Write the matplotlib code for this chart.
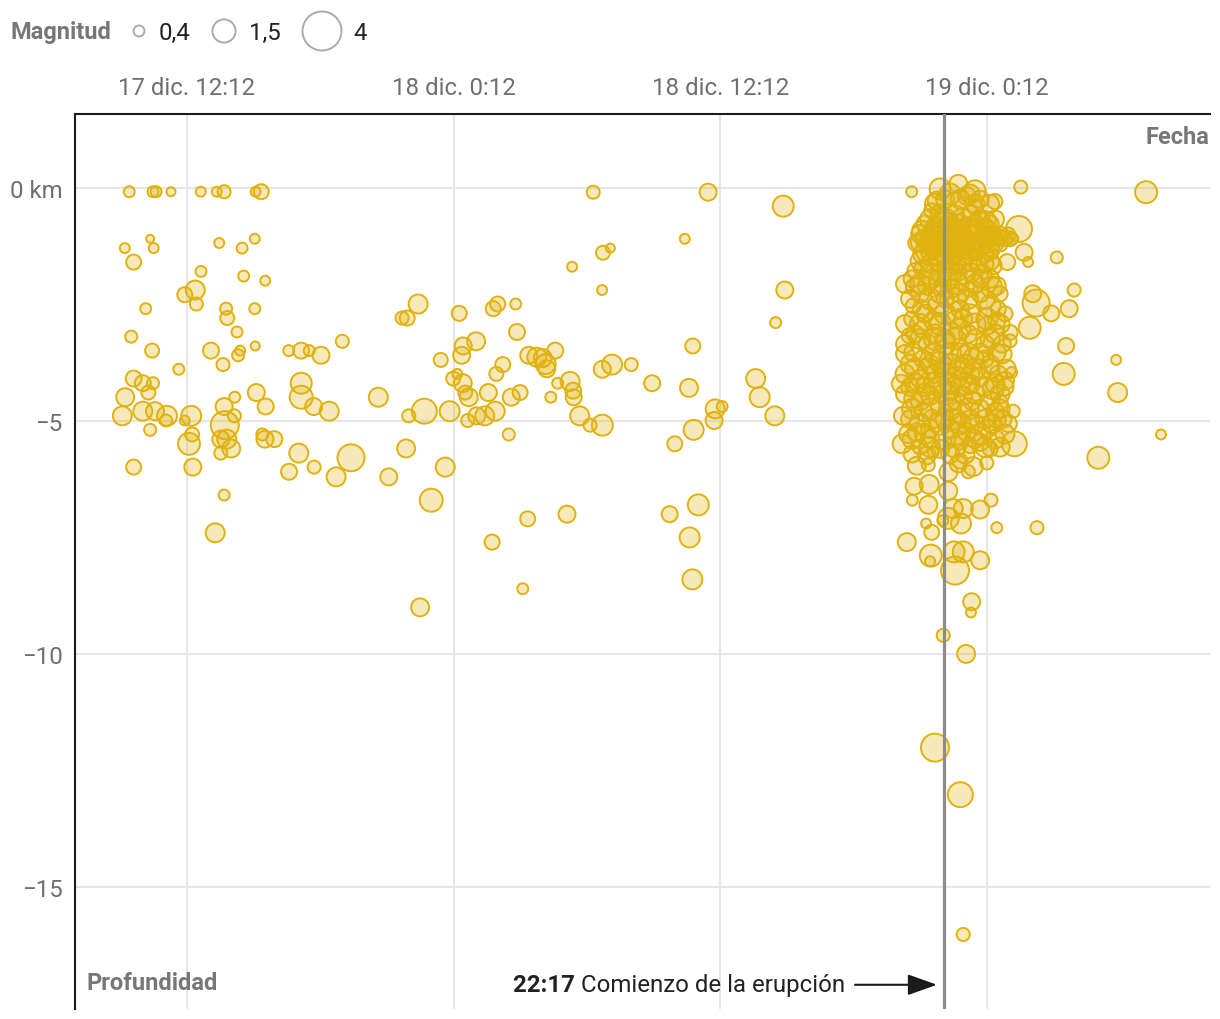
import numpy as np
import matplotlib
matplotlib.use("Agg")
import matplotlib.pyplot as plt

plt.rcParams['font.family'] = ['Roboto', 'DejaVu Sans']

# ---- data: hours since 17 dic 00:00, depth (km), magnitude ----
hora = [
    9.60, 10.67, 10.81, 11.48, 12.82, 13.54, 13.87, 15.29, 15.54, 9.40,
    10.54, 10.70, 9.80, 13.65, 14.68, 15.25, 12.83, 14.75, 15.72, 12.57,
    12.10, 12.62, 10.34, 13.96, 14.01, 15.25, 14.45, 9.69, 10.63, 13.28,
    14.59, 14.50, 15.27, 13.82, 11.83, 16.78, 17.34, 17.70, 18.23, 19.19,
    9.80, 10.21, 10.67, 10.46, 9.42, 9.29, 10.21, 10.76, 11.30, 11.26,
    10.54, 9.80, 12.10, 12.39, 12.43, 12.29, 12.46, 13.90, 13.87, 14.35,
    14.33, 13.72, 13.99, 14.19, 13.72, 15.32, 15.74, 15.59, 15.71, 16.13,
    17.34, 17.34, 17.90, 18.60, 17.23, 16.79, 17.92, 18.91, 19.58, 20.81,
    21.28, 22.06, 13.87, 13.47, 22.60, 21.88, 22.11, 24.45, 23.62, 24.63,
    25.21, 24.56, 22.18, 22.88, 24.02, 24.18, 24.36, 24.61, 24.72, 24.88,
    24.83, 25.24, 23.82, 23.19, 22.69, 30.48, 35.65, 39.03, 34.60, 30.92,
    31.25, 29.53, 30.88, 39.10, 38.69, 25.98, 26.18, 26.99, 27.05, 26.41,
    26.12, 25.76, 26.79, 27.19, 27.58, 27.94, 28.21, 28.34, 28.39, 28.77,
    28.88, 28.57, 29.44, 29.58, 29.60, 30.89, 31.33, 32.19, 33.13, 34.79,
    34.96, 37.79, 37.97, 38.65, 35.97, 36.28, 35.92, 35.00, 34.15, 25.60,
    26.07, 26.68, 29.87, 30.34, 30.89, 27.53, 29.30, 25.93, 27.31, 33.92,
    35.21, 34.82, 34.94, 55.36, 51.34, 52.12, 51.90, 51.09, 51.76, 51.65,
    54.01, 54.08, 56.03, 53.21, 49.72, 48.55, 49.64, 49.36, 49.87, 50.05,
    49.11, 48.48, 45.04, 50.26, 50.41, 50.12, 44.32, 44.42, 44.38, 49.43,
    49.38, 49.24, 44.81, 48.19, 47.58, 47.36, 46.99, 46.46, 45.49, 45.56,
    44.92, 45.60, 44.84, 45.56, 46.46, 46.68, 47.13, 46.46, 46.21, 45.46,
    45.71, 47.03, 47.89, 48.38, 48.64, 50.45, 44.59, 45.67, 45.64, 46.72,
    47.13, 47.89, 46.76, 47.51, 47.48, 46.23, 47.26, 45.86, 47.00, 47.13,
    45.04, 46.91, 46.09, 46.91, 47.66, 47.29, 45.94, 45.71, 47.89, 47.66,
    48.19, 45.41, 45.86, 46.31, 46.76, 47.21, 47.66, 48.11, 48.47, 45.64,
    46.31, 46.99, 47.66, 46.54, 46.09, 47.44, 48.71, 49.01, 44.96, 45.33,
    46.16, 46.91, 47.51, 48.41, 48.64, 44.96, 45.49, 46.99, 47.44, 44.88,
    45.26, 46.01, 46.99, 48.34, 48.71, 44.81, 45.78, 48.19, 48.64, 47.13,
    46.54, 47.89, 44.70, 45.33, 46.99, 48.19, 49.24, 44.88, 45.33, 46.09,
    46.99, 47.58, 48.64, 49.09, 45.19, 46.84, 47.89, 49.01, 49.31, 44.88,
    45.64, 47.13, 48.48, 48.79, 45.33, 46.09, 46.99, 47.89, 48.56, 49.16,
    45.04, 45.64, 46.54, 47.29, 48.19, 48.64, 45.19, 45.78, 46.99, 47.44,
    47.89, 46.31, 47.66, 46.54, 47.44, 46.31, 47.66, 48.11, 45.86, 46.76,
    46.31, 48.11, 46.54, 46.09, 48.34,
]

profundidad = [
    -0.08, -0.08, -0.08, -0.08, -0.08, -0.08, -0.08, -0.08, -0.08, -1.29,
    -1.09, -1.29, -1.59, -1.18, -1.29, -1.09, -1.79, -1.89, -1.99, -2.19,
    -2.29, -2.49, -2.59, -2.59, -2.79, -2.59, -3.09, -3.19, -3.49, -3.49,
    -3.49, -3.59, -3.39, -3.79, -3.89, -3.49, -3.49, -3.49, -3.59, -3.29,
    -4.09, -4.19, -4.19, -4.39, -4.49, -4.89, -4.79, -4.79, -4.89, -4.99,
    -5.19, -5.99, -4.99, -4.89, -5.29, -5.49, -5.99, -5.09, -4.69, -4.49,
    -4.89, -5.39, -5.39, -5.59, -5.69, -4.39, -4.69, -5.29, -5.39, -5.39,
    -4.19, -4.49, -4.69, -4.79, -5.69, -6.09, -5.99, -6.20, -5.79, -4.49,
    -6.20, -5.59, -6.59, -7.40, -2.49, -2.79, -2.79, -2.69, -3.69, -3.39,
    -3.29, -3.59, -4.89, -4.79, -4.79, -4.09, -3.99, -4.19, -4.39, -4.49,
    -4.99, -4.89, -5.99, -6.70, -9.00, -0.09, -0.09, -0.39, -1.09, -1.39,
    -1.29, -1.69, -2.19, -2.19, -2.89, -2.59, -2.49, -2.49, -3.09, -3.79,
    -3.99, -4.39, -4.49, -4.39, -3.59, -3.63, -3.65, -3.78, -3.88, -3.49,
    -4.19, -4.49, -4.15, -4.35, -4.49, -3.89, -3.79, -3.79, -4.19, -4.29,
    -3.39, -4.09, -4.49, -4.89, -4.74, -4.69, -4.99, -5.19, -5.49, -4.89,
    -4.79, -5.29, -4.89, -5.09, -5.09, -7.10, -7.00, -7.60, -8.60, -7.00,
    -6.80, -7.50, -8.40, -0.09, -1.49, -2.19, -2.59, -2.69, -3.39, -3.99,
    -3.69, -4.39, -5.29, -5.79, 0.02, -0.29, -0.88, -1.09, -1.38, -1.59,
    -1.59, -1.67, -1.18, -2.27, -2.47, -3.00, -4.20, -4.89, -5.49, -5.49,
    -4.79, -3.10, -0.08, -5.90, -5.98, -6.09, -5.86, -6.10, -5.74, -5.94,
    -6.40, -6.36, -6.70, -6.80, -6.50, -6.88, -6.88, -7.09, -7.14, -7.20,
    -7.39, -7.20, -6.90, -6.70, -7.29, -7.29, -7.60, -7.89, -8.01, -7.81,
    -7.81, -7.99, -8.21, -8.88, -9.11, -9.60, -10.00, -12.01, -13.02, -16.02,
    -5.96, -5.92, -0.02, 0.09, -0.06, -0.17, -0.27, -0.49, -0.59, -0.41,
    -0.70, -1.09, -0.92, -1.09, -0.88, -1.14, -0.99, -1.09, -1.05, -1.35,
    -1.42, -1.31, -1.35, -0.71, -1.20, -1.20, -1.06, -1.09, -1.77, -1.74,
    -1.81, -1.81, -1.81, -2.13, -2.10, -2.13, -2.10, -2.27, -2.17, -2.53,
    -2.60, -2.53, -2.60, -2.53, -2.60, -2.81, -2.85, -2.81, -2.85, -2.81,
    -2.17, -1.95, -3.17, -3.03, -3.03, -2.96, -3.28, -3.53, -3.67, -3.74,
    -3.53, -3.67, -3.53, -3.88, -4.10, -4.06, -4.06, -4.14, -3.96, -4.53,
    -4.46, -4.46, -4.31, -4.60, -4.81, -4.67, -4.81, -4.74, -4.81, -5.06,
    -5.24, -5.17, -5.17, -5.24, -5.17, -4.96, -5.56, -5.67, -5.42, -5.53,
    -5.46, -3.24, -3.24, -4.35, -4.21, -4.96, -5.06, -3.67, -3.99, -2.81,
    -2.38, -1.63, -1.63, -5.60, -5.60,
]

magnitud = [
    0.40, 0.40, 0.40, 0.29, 0.34, 0.34, 0.54, 0.34, 0.69, 0.34,
    0.24, 0.34, 0.69, 0.34, 0.40, 0.34, 0.40, 0.40, 0.34, 1.05,
    0.69, 0.54, 0.40, 0.47, 0.61, 0.40, 0.40, 0.47, 0.61, 0.77,
    0.34, 0.47, 0.29, 0.54, 0.40, 0.40, 0.77, 0.40, 0.86, 0.54,
    0.77, 0.77, 0.47, 0.61, 0.95, 1.05, 1.05, 0.95, 1.15, 0.47,
    0.47, 0.69, 0.34, 1.15, 0.61, 1.37, 0.86, 2.14, 0.86, 0.40,
    0.54, 0.86, 1.05, 0.95, 0.54, 0.86, 0.77, 0.47, 0.86, 0.77,
    1.26, 1.49, 0.86, 1.05, 1.05, 0.77, 0.54, 1.05, 2.00, 1.05,
    0.86, 0.95, 0.40, 1.05, 1.05, 0.54, 0.69, 0.69, 0.61, 0.86,
    0.95, 0.86, 0.54, 1.73, 1.15, 0.61, 0.34, 0.95, 0.61, 0.95,
    0.54, 0.86, 1.05, 1.49, 0.95, 0.54, 0.86, 1.26, 0.34, 0.61,
    0.29, 0.34, 0.34, 0.86, 0.40, 0.69, 0.69, 0.40, 0.77, 0.69,
    0.61, 0.86, 0.86, 0.69, 0.86, 1.05, 0.95, 1.15, 0.86, 0.77,
    0.40, 0.40, 1.05, 0.77, 0.77, 0.86, 1.15, 0.54, 0.77, 0.95,
    0.69, 1.05, 1.15, 1.05, 1.05, 0.40, 0.86, 1.15, 0.69, 1.05,
    1.05, 0.47, 1.05, 0.54, 1.26, 0.69, 0.86, 0.69, 0.40, 0.77,
    1.26, 1.15, 1.15, 1.37, 0.47, 0.54, 0.86, 0.77, 0.77, 1.37,
    0.34, 1.05, 0.34, 1.37, 0.54, 0.69, 1.87, 0.40, 0.86, 0.34,
    0.77, 0.86, 0.86, 0.86, 2.00, 1.37, 0.95, 0.95, 1.05, 1.73,
    0.54, 0.69, 0.40, 0.54, 1.05, 0.54, 0.69, 0.95, 0.95, 0.54,
    0.86, 1.05, 0.40, 0.95, 0.95, 1.05, 1.05, 1.26, 0.40, 0.34,
    0.69, 1.15, 0.95, 0.54, 0.40, 0.54, 0.95, 1.37, 0.34, 1.26,
    1.26, 0.95, 2.14, 0.86, 0.34, 0.54, 0.95, 2.14, 1.73, 0.54,
    0.95, 0.86, 1.26, 0.95, 1.26, 0.95, 0.95, 0.69, 0.40, 0.69,
    0.95, 1.05, 1.05, 1.26, 1.05, 1.26, 1.05, 1.05, 0.86, 1.05,
    1.05, 1.05, 0.86, 0.86, 1.49, 1.05, 0.86, 0.69, 0.69, 0.95,
    1.26, 0.86, 0.95, 1.26, 0.95, 0.95, 0.95, 0.95, 0.69, 0.69,
    0.95, 1.26, 0.95, 1.26, 0.69, 0.69, 0.95, 1.26, 0.86, 0.95,
    1.05, 0.95, 0.69, 0.95, 1.26, 0.95, 0.54, 0.95, 0.95, 1.26,
    0.95, 1.26, 0.95, 0.95, 0.95, 1.26, 0.95, 0.95, 0.40, 0.95,
    0.95, 0.95, 1.26, 0.69, 0.95, 0.95, 1.26, 0.95, 0.95, 0.86,
    0.95, 0.95, 0.95, 0.95, 0.95, 0.95, 0.69, 0.40, 0.95, 0.69,
    0.86, 1.05, 1.05, 1.05, 1.05, 1.05, 1.05, 0.86, 0.95, 0.86,
    0.86, 0.86, 0.95, 0.95, 0.69,
]

# dense swarm right around the eruption onset (part 1)
hora_enjambre = [
    46.31, 46.99, 47.89, 46.09, 46.76, 47.44, 45.41, 46.09, 46.99, 47.66,
    48.34, 45.19, 45.73, 46.45, 47.08, 47.80, 48.43, 45.55, 46.63, 46.90,
    47.98, 48.79, 45.28, 46.00, 46.63, 47.35, 48.11, 45.64, 47.08, 47.80,
    44.83, 45.73, 46.45, 48.34, 45.19, 46.09, 47.89, 48.79, 45.41, 46.31,
    47.44, 49.01, 44.96, 45.86, 46.63, 47.35, 48.56, 44.51, 45.55, 46.31,
    48.11, 48.88, 44.74, 45.64, 46.54, 47.21, 48.34, 44.51, 46.31, 47.44,
    48.70, 44.74, 45.41, 46.09, 46.99, 48.11, 49.01, 45.19, 46.54, 47.53,
    48.34, 44.74, 45.73, 46.76, 47.44, 48.11, 48.92, 44.83, 45.64, 46.31,
    47.66, 48.56, 44.83, 46.54, 47.21, 45.86, 46.54, 47.35, 48.11, 45.86,
    46.31, 47.66, 48.34, 45.64, 46.76, 49.24, 48.79, 49.15,
]
profundidad_enjambre = [
    -0.24, -0.24, -0.24, -0.56, -0.56, -0.56, -0.77, -0.77, -0.77, -0.77,
    -0.77, -0.99, -0.99, -0.99, -0.99, -0.99, -0.99, -1.20, -1.20, -1.20,
    -1.20, -1.20, -1.42, -1.42, -1.42, -1.42, -1.42, -1.63, -1.63, -1.63,
    -1.95, -1.95, -1.95, -1.95, -2.27, -2.27, -2.27, -2.27, -2.70, -2.70,
    -2.70, -2.70, -3.13, -3.13, -3.13, -3.13, -3.13, -3.35, -3.35, -3.35,
    -3.35, -3.35, -3.78, -3.78, -3.78, -3.78, -3.78, -3.99, -3.99, -3.99,
    -3.99, -4.27, -4.27, -4.27, -4.27, -4.27, -4.27, -4.57, -4.57, -4.57,
    -4.57, -4.96, -4.96, -4.96, -4.96, -4.96, -4.96, -5.39, -5.39, -5.39,
    -5.39, -5.39, -5.71, -5.71, -5.71, -0.84, -0.84, -0.84, -0.84, -1.27,
    -1.27, -1.27, -1.27, -1.09, -1.09, -1.09, -1.01, -1.01,
]
magnitud_enjambre = [
    0.95, 1.05, 0.86, 1.05, 0.95, 0.86, 0.86, 1.26, 1.05, 0.95,
    0.86, 0.95, 1.05, 1.26, 1.05, 1.26, 0.86, 1.05, 1.26, 0.95,
    1.05, 0.69, 0.95, 1.26, 1.05, 0.95, 0.86, 0.95, 1.05, 0.86,
    0.86, 1.05, 1.26, 0.95, 0.95, 1.05, 0.86, 0.69, 0.95, 1.26,
    1.05, 0.69, 0.86, 1.05, 1.26, 0.95, 1.05, 0.95, 1.05, 1.26,
    0.95, 0.86, 1.05, 0.95, 1.26, 1.05, 0.95, 1.05, 1.26, 0.95,
    0.86, 0.95, 1.05, 1.26, 1.05, 0.95, 0.86, 1.05, 1.26, 0.95,
    1.05, 0.95, 1.05, 1.26, 0.95, 1.05, 0.86, 1.05, 0.95, 1.26,
    0.95, 1.05, 0.86, 0.95, 1.05, 1.05, 1.26, 1.05, 0.95, 1.05,
    1.26, 1.05, 0.95, 1.05, 1.26, 0.69, 0.86, 0.69,
]

# dense swarm (part 2)
hora_enjambre2 = [
    46.54, 47.44, 45.86, 46.76, 47.66, 48.34, 45.64, 46.31, 47.08, 47.89,
    48.56, 45.28, 46.18, 46.90, 47.53, 48.25, 45.19, 46.00, 46.54, 47.21,
    47.80, 48.56, 45.46, 46.18, 46.76, 47.53, 48.34, 45.19, 46.09, 46.76,
    47.44, 48.34, 45.64, 46.54, 47.21, 47.98, 44.51, 45.19, 46.09, 46.90,
    47.66, 44.74, 45.64, 46.76, 47.35, 48.11, 44.51, 45.19, 46.09, 47.66,
    48.79, 45.19, 45.86, 46.76, 48.34, 44.51, 45.86, 46.54, 47.35, 47.89,
    48.88, 44.96, 45.55, 46.31, 46.99, 47.66, 48.34, 44.96, 45.86, 46.54,
    47.21, 48.56, 44.51, 45.41, 46.31, 47.66, 48.79, 44.83, 45.64, 46.54,
    47.35, 48.79, 45.19, 46.09, 46.99, 48.43, 44.65, 45.41, 46.76, 47.89,
    49.01, 45.64, 46.76, 48.11, 48.79,
]
profundidad_enjambre2 = [
    -0.13, -0.13, -0.34, -0.34, -0.34, -0.34, -0.67, -0.67, -0.67, -0.67,
    -0.67, -0.92, -0.92, -0.92, -0.92, -0.92, -1.16, -1.16, -1.16, -1.16,
    -1.16, -1.16, -1.35, -1.35, -1.35, -1.35, -1.35, -1.57, -1.57, -1.57,
    -1.57, -1.57, -1.85, -1.85, -1.85, -1.85, -2.06, -2.06, -2.06, -2.06,
    -2.06, -2.38, -2.38, -2.38, -2.38, -2.38, -2.92, -2.92, -2.92, -2.92,
    -2.92, -3.24, -3.24, -3.24, -3.24, -3.56, -3.56, -3.56, -3.56, -3.56,
    -3.56, -3.88, -3.88, -3.88, -3.88, -3.88, -3.88, -4.20, -4.20, -4.20,
    -4.20, -4.20, -4.42, -4.42, -4.42, -4.42, -4.42, -4.74, -4.74, -4.74,
    -4.74, -4.74, -5.06, -5.06, -5.06, -5.06, -5.28, -5.28, -5.28, -5.28,
    -5.28, -5.56, -5.56, -5.56, -5.56,
]
magnitud_enjambre2 = [
    1.26, 1.05, 1.15, 1.37, 1.05, 0.95, 1.15, 1.37, 1.26, 1.05,
    0.95, 1.15, 1.37, 1.49, 1.26, 1.05, 1.05, 1.37, 1.49, 1.26,
    1.15, 0.95, 1.26, 1.49, 1.37, 1.15, 0.95, 1.05, 1.37, 1.26,
    1.15, 0.95, 1.26, 1.37, 1.15, 1.05, 0.95, 1.15, 1.37, 1.26,
    1.05, 0.95, 1.26, 1.37, 1.15, 1.05, 0.95, 1.15, 1.37, 1.26,
    1.05, 1.15, 1.37, 1.26, 1.05, 0.95, 1.26, 1.37, 1.26, 1.15,
    1.05, 1.15, 1.26, 1.37, 1.49, 1.26, 1.05, 1.15, 1.37, 1.26,
    1.37, 1.05, 0.95, 1.26, 1.37, 1.15, 1.05, 1.15, 1.26, 1.37,
    1.26, 1.05, 1.15, 1.37, 1.26, 1.05, 0.95, 1.15, 1.37, 1.26,
    1.05, 1.15, 1.26, 1.15, 1.05,
]

x_ticks = [12.2, 24.2, 36.2, 48.2]
x_labels = ["17 dic. 12:12", "18 dic. 0:12", "18 dic. 12:12", "19 dic. 0:12"]
y_ticks = [0, -5, -10, -15]
y_labels = ["0 km", "−5", "−10", "−15"]
leyenda_mag = [0.4, 1.5, 4]
leyenda_txt = ["0,4", "1,5", "4"]
erupcion = 24 + 22 + 17 / 60.0   # 18 dic 22:17

# ---- styling ----
W, H = 1220, 1020
GOLD = '#e0b20f'
FACE = (0.88, 0.70, 0.06, 0.29)
GREY_TXT = '#6f6f6f'
FS = 17.3


def area(m):
    d_px = 20.5 * np.sqrt(np.asarray(m)) - 2.0
    return (d_px * 0.72) ** 2


x_all = hora + hora_enjambre + hora_enjambre2
y_all = profundidad + profundidad_enjambre + profundidad_enjambre2
m_all = magnitud + magnitud_enjambre + magnitud_enjambre2

fig = plt.figure(figsize=(W / 100, H / 100), dpi=100)
ax = fig.add_axes([75 / W, 10 / H, 1135 / W, 895 / H])
ax.set_xlim(7.16, 58.235)
ax.set_ylim(-17.62, 1.588)

ax.scatter(x_all, y_all, s=area(m_all), facecolor=FACE,
           edgecolor=GOLD, linewidth=1.4, zorder=3)
ax.axvline(erupcion, color='#8c8c8c', lw=2.3, zorder=4)

ax.set_xticks(x_ticks)
ax.set_xticklabels(x_labels)
ax.set_yticks(y_ticks)
ax.set_yticklabels(y_labels)
ax.xaxis.tick_top()
ax.tick_params(axis='x', length=0, pad=11, labelsize=FS, labelcolor=GREY_TXT)
ax.tick_params(axis='y', length=0, pad=9, labelsize=FS, labelcolor=GREY_TXT)
ax.grid(True, color='#e6e6e6', lw=1.5)
ax.set_axisbelow(True)
for s in ['bottom', 'right']:
    ax.spines[s].set_visible(False)
for s in ['top', 'left']:
    ax.spines[s].set_color('#1a1a1a')
    ax.spines[s].set_linewidth(1.5)

# axis titles
fig.text(1209 / W, 1 - 138 / H, 'Fecha', ha='right', va='center',
         weight='bold', color='#777777', size=17)
fig.text(87 / W, 1 - 984 / H, 'Profundidad', ha='left', va='center',
         weight='bold', color='#777777', size=17)

# eruption annotation
y_ann = -17.10
t1 = ax.text(41.81, y_ann, 'Comienzo de la erupción', ha='right', va='center',
             color='#222222', size=FS, zorder=5)
ax.annotate('22:17 ', xy=(0, 0.5), xycoords=t1, ha='right', va='center',
            weight='bold', color='#222222', size=FS)
ax.annotate('', xy=(45.95, y_ann), xytext=(42.26, y_ann),
            arrowprops=dict(arrowstyle='-|>,head_length=0.9,head_width=0.32',
                            color='#1a1a1a', lw=1.5, shrinkA=0, shrinkB=0,
                            mutation_scale=20))

# size legend
fig.text(10 / W, 1 - 33 / H, 'Magnitud', ha='left', va='center',
         weight='bold', color='#777777', size=17)
lax = fig.add_axes([0, 0, 1, 1])
lax.set_xlim(0, W)
lax.set_ylim(H, 0)
lax.axis('off')
leg_x = [139, 224, 322]
lax.scatter(leg_x, [32] * 3, s=area(leyenda_mag), facecolor='none',
            edgecolor='#aaaaaa', linewidth=1.4)
for xx, txt in zip([159, 249, 353], leyenda_txt):
    lax.text(xx, 33, txt, ha='left', va='center', color='#222222', size=FS)

fig.savefig('out.png', dpi=100)
